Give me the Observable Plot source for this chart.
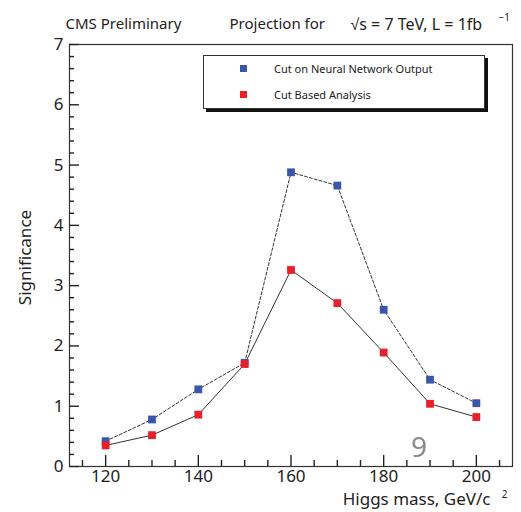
<!DOCTYPE html>
<html><head><meta charset="utf-8">
<script src="https://cdn.jsdelivr.net/npm/d3@7"></script>
<script src="https://cdn.jsdelivr.net/npm/@observablehq/plot@0.6"></script>
<style>
body{margin:0;background:#fff;font-family:"Noto Sans",sans-serif;}
#wrap{position:relative;width:521px;height:512px;}
.legend{position:absolute;left:203px;top:55px;width:280px;height:52px;border:1px solid #333;background:#fff;box-shadow:3px 3px 0 #111;font-size:11px;color:#222;}
.legend .row{position:absolute;left:36px;display:flex;align-items:center;}
.legend .sw{width:7px;height:7px;margin-right:27px;}
.pg{position:absolute;left:411px;top:427px;font-size:28px;color:#8a8a8a;}
</style></head>
<body><div id="wrap"></div>
<script>
const mass = [120,130,140,150,160,170,180,190,200];
const nnSignificance = [0.42,0.78,1.28,1.72,4.88,4.66,2.60,1.44,1.05];
const cutSignificance = [0.35,0.52,0.86,1.70,3.26,2.71,1.89,1.04,0.82];
const seriesNames = ["Cut on Neural Network Output","Cut Based Analysis"];
const seriesColors = ["#3a56a8","#e8202a"];
const xMajor = [120,140,160,180,200];
const xMinor = [115,125,130,135,145,150,155,165,170,175,185,190,195,205];
const yMajor = [0,1,2,3,4,5,6,7];
const yMinor = d3.range(0,7.01,0.2).map(v=>+v.toFixed(1)).filter(v=>!Number.isInteger(v));

const nn = mass.map((m,i)=>({mass:m, s:nnSignificance[i]}));
const cut = mass.map((m,i)=>({mass:m, s:cutSignificance[i]}));

const W = 521, H = 512, ML = 69, MR = 9, MT = 44, MB = 46;
const PW = W - ML - MR, PH = H - MT - MB;

const plot = Plot.plot({
  width:W, height:H,
  marginLeft:ML, marginRight:MR, marginTop:MT, marginBottom:MB,
  style:{fontFamily:"Noto Sans, sans-serif", fontSize:"16px", color:"#222", background:"transparent"},
  x:{domain:[112.2,207.8], axis:null},
  y:{domain:[0,7], axis:null},
  marks:[
    Plot.frame({stroke:"#333", strokeWidth:1.2}),
    Plot.tickX(xMinor,{x:d=>d, stroke:"#222", strokeWidth:1.4, insetTop:PH-6}),
    Plot.tickX(xMajor,{x:d=>d, stroke:"#222", strokeWidth:1.4, insetTop:PH-11}),
    Plot.tickY(yMinor,{y:d=>d, stroke:"#222", strokeWidth:1.4, insetRight:PW-5}),
    Plot.tickY(yMajor,{y:d=>d, stroke:"#222", strokeWidth:1.4, insetRight:PW-10}),
    Plot.axisX({ticks:xMajor, tickSize:0, tickPadding:3, fontSize:17, label:null, tickFormat:d3.format("d")}),
    Plot.axisY({ticks:yMajor, tickSize:0, tickPadding:6, fontSize:17, label:null, tickFormat:d3.format("d")}),
    Plot.line(nn,{x:"mass",y:"s",stroke:"#333",strokeWidth:1,strokeDasharray:"3,2"}),
    Plot.line(cut,{x:"mass",y:"s",stroke:"#333",strokeWidth:1}),
    Plot.dot(nn,{x:"mass",y:"s",symbol:"square",r:4.4,fill:seriesColors[0],stroke:null}),
    Plot.dot(cut,{x:"mass",y:"s",symbol:"square",r:4.4,fill:seriesColors[1],stroke:null}),
    Plot.text(["Higgs mass, GeV/c"],{frameAnchor:"bottom-right",dx:-22,dy:38,fontSize:17,textAnchor:"end"}),
    Plot.text(["2"],{frameAnchor:"bottom-right",dx:-5,dy:31,fontSize:10,textAnchor:"end"}),
    Plot.text(["Significance"],{frameAnchor:"left",dx:-44,dy:2,rotate:-90,fontSize:17,textAnchor:"middle"}),
    Plot.text(["CMS Preliminary"],{frameAnchor:"top-left",dx:-4,dy:-26,fontSize:15,textAnchor:"start"}),
    Plot.text(["Projection for"],{frameAnchor:"top-left",dx:160,dy:-26,fontSize:15,textAnchor:"start"}),
    Plot.text(["√s = 7 TeV, L = 1fb"],{frameAnchor:"top-left",dx:281,dy:-26,fontSize:16,textAnchor:"start"}),
    Plot.text(["−1"],{frameAnchor:"top-left",dx:429,dy:-31,fontSize:10,textAnchor:"start"})
  ]
});
const wrap = document.getElementById("wrap");
wrap.appendChild(plot);
const lg = document.createElement("div");
lg.className="legend";
seriesNames.forEach((n,i)=>{
  const r=document.createElement("div");r.className="row";r.style.top=(i===0?5:31)+"px";
  const s=document.createElement("span");s.className="sw";s.style.background=seriesColors[i];
  r.appendChild(s);r.appendChild(document.createTextNode(n));lg.appendChild(r);
});
wrap.appendChild(lg);
const pg=document.createElement("div");pg.className="pg";pg.textContent="9";wrap.appendChild(pg);
</script></body></html>
